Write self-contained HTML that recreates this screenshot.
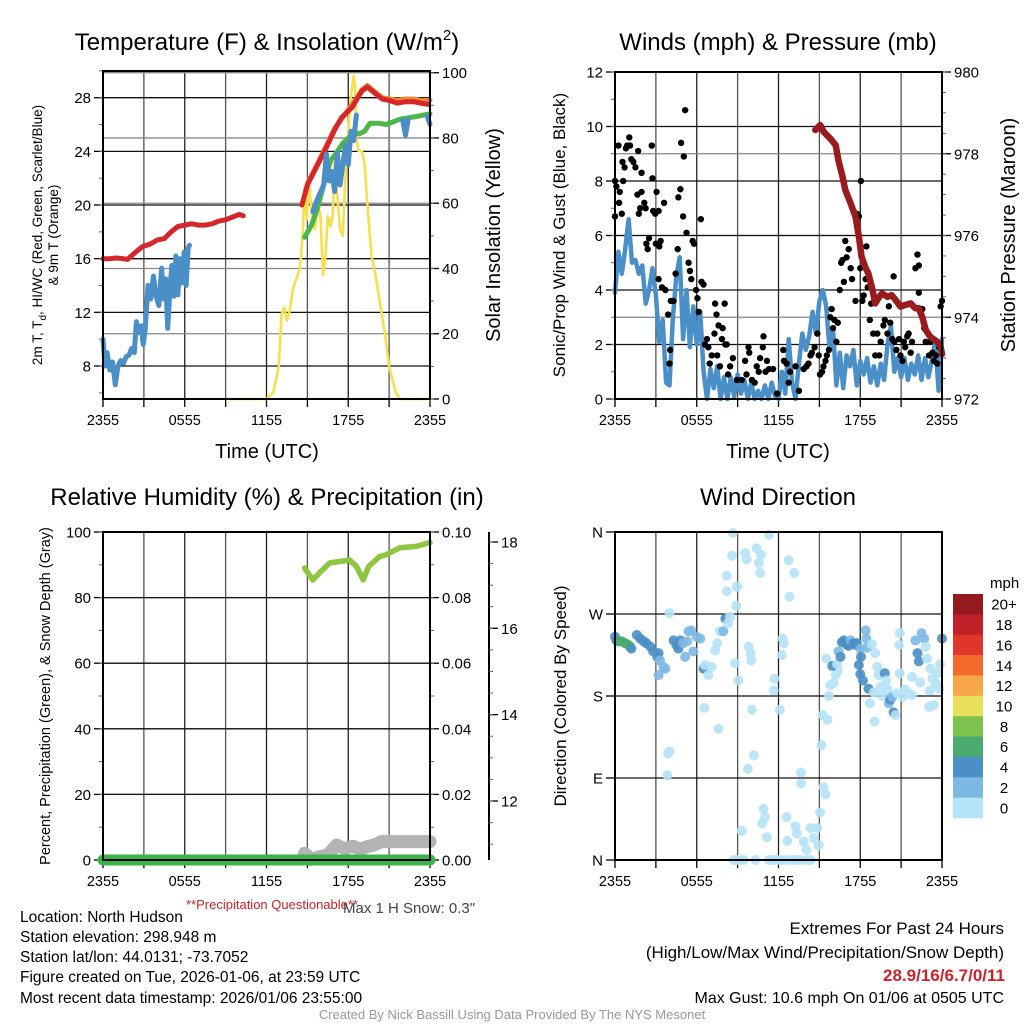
<!DOCTYPE html>
<html><head><meta charset="utf-8"><title>North Hudson Meteogram</title>
<style>
html,body{margin:0;padding:0;background:#fff;}
svg{display:block;font-family:"Liberation Sans",Arial,sans-serif;}
</style></head>
<body>
<svg id="fig" width="1024" height="1024" viewBox="0 0 1024 1024" xmlns="http://www.w3.org/2000/svg">
<rect x="0" y="0" width="1024" height="1024" fill="#fff"/>
<text x="267" y="50" font-size="24" text-anchor="middle">Temperature (F) &amp; Insolation (W/m<tspan font-size="15" dy="-10">2</tspan><tspan dy="10">)</tspan></text>
<text x="778" y="50" font-size="24" text-anchor="middle">Winds (mph) &amp; Pressure (mb)</text>
<text x="267" y="505" font-size="24" text-anchor="middle">Relative Humidity (%) &amp; Precipitation (in)</text>
<text x="778" y="505" font-size="24" text-anchor="middle">Wind Direction</text>
<text x="267" y="458" font-size="20" text-anchor="middle">Time (UTC)</text>
<text x="778" y="458" font-size="20" text-anchor="middle">Time (UTC)</text>
<g transform="translate(42,235) rotate(-90)"><text x="0" y="0" font-size="13.5" text-anchor="middle">2m T, T<tspan font-size="10" dy="4">d</tspan><tspan dy="-4">, HI/WC (Red, Green, Scarlet/Blue)</tspan></text><text x="0" y="16" font-size="13.5" text-anchor="middle">&amp; 9m T (Orange)</text></g>
<text transform="translate(500,235) rotate(-90)" font-size="20" text-anchor="middle">Solar Insolation (Yellow)</text>
<text transform="translate(565,235) rotate(-90)" font-size="17" text-anchor="middle">Sonic/Prop Wind &amp; Gust (Blue, Black)</text>
<text transform="translate(1015,235) rotate(-90)" font-size="20" text-anchor="middle">Station Pressure (Maroon)</text>
<text transform="translate(50,696) rotate(-90)" font-size="14.5" text-anchor="middle">Percent, Precipitation (Green), &amp; Snow Depth (Gray)</text>
<text transform="translate(566,696) rotate(-90)" font-size="17" text-anchor="middle">Direction (Colored By Speed)</text>
<text x="186" y="909" font-size="13" fill="#d0202a">**Precipitation Questionable**</text>
<text x="343" y="913" font-size="15" fill="#444">Max 1 H Snow: 0.3"</text>
<g font-size="15.5">
<text x="20" y="922">Location: North Hudson</text>
<text x="20" y="942">Station elevation: 298.948 m</text>
<text x="20" y="962">Station lat/lon: 44.0131; -73.7052</text>
<text x="20" y="982">Figure created on Tue, 2026-01-06, at 23:59 UTC</text>
<text x="20" y="1003">Most recent data timestamp: 2026/01/06 23:55:00</text>
</g>
<g text-anchor="end">
<text x="1004" y="934" font-size="17">Extremes For Past 24 Hours</text>
<text x="1004" y="958" font-size="17">(High/Low/Max Wind/Precipitation/Snow Depth)</text>
<text x="1005" y="981" font-size="17" font-weight="bold" fill="#cc2228">28.9/16/6.7/0/11</text>
<text x="1004" y="1003" font-size="16">Max Gust: 10.6 mph On 01/06 at 0505 UTC</text>
</g>
<text x="512" y="1019" font-size="13" fill="#999" text-anchor="middle">Created By Nick Bassill Using Data Provided By The NYS Mesonet</text>
</svg>
<script>
// ---------- data ----------
const timeTickLabels = ["2355","0555","1155","1755","2355"];
const tempTicks = [8,12,16,20,24,28];
const insolTicks = [0,20,40,60,80,100];
const windTicks = [0,2,4,6,8,10,12];
const pressTicks = [972,974,976,978,980];
const rhTicks = [0,20,40,60,80,100];
const precipTicks = [0,0.02,0.04,0.06,0.08,0.10];
const snowTicks = [12,14,16,18];
const dirTicks = [0,90,180,270,360];
const dirTickLabels = ["N","E","S","W","N"];
const speedBins = ["0","2","4","6","8","10","12","14","16","18","20+"];
const speedColors = ["#b5e3f7","#7db8e3","#4a8fc7","#4aaa70","#7dc24d","#e8e05a","#f8a748","#f26a2c","#e0352b","#c0202a","#941a1d"];

const red1T = [0,0.5,1,1.5,1.8,2.3,2.9,3.5,4,4.5,5,5.5,6,6.5,7,7.5,8,8.5,9,9.5,10,10.3];
const red1V = [16.0,16.0,16.05,16.0,15.95,16.4,16.9,17.1,17.4,17.5,18.0,18.4,18.5,18.6,18.5,18.5,18.6,18.8,18.9,19.1,19.3,19.2];
const red2T = [14.6,15.0,15.5,16.0,16.4,17.0,17.5,18.0,18.3,18.7,19.0,19.4,20.0,20.5,21.0,21.6,22.2,22.8,23.3,23.9];
const red2V = [20.0,21.5,22.5,23.5,24.3,25.6,26.5,27.0,27.3,28.0,28.5,28.8,28.3,27.9,27.8,27.6,27.7,27.7,27.6,27.5];
const orangeT = [15.0,16.0,17.0,18.0,18.7,19.0,19.4,20.0,20.5,21.0,21.6,22.2,22.8,23.3,24.0];
const orangeV = [21.6,23.6,25.7,27.1,28.1,28.6,28.9,28.4,28.0,27.9,27.8,27.9,27.9,27.8,27.8];
const greenT = [14.8,15.3,15.7,16.2,16.7,17.2,17.6,18.0,18.4,18.8,19.2,19.6,20.2,20.8,21.3,21.8,22.4,23.0,23.5,24.0];
const greenV = [17.6,18.5,19.6,21.5,23.3,24.0,24.6,25.0,25.4,25.3,25.5,26.1,26.1,26.0,26.2,26.4,26.5,26.6,26.7,26.8];
const blue1T = [0,0.15,0.3,0.5,0.7,0.9,1.1,1.3,1.5,1.7,1.9,2.1,2.3,2.45,2.6,2.8,2.95,3.1,3.3,3.5,3.7,3.9,4.1,4.3,4.45,4.6,4.75,4.9,5.05,5.2,5.35,5.5,5.65,5.8,5.95,6.1,6.25,6.35];
const blue1V = [10.0,8.0,9.0,7.7,8.3,6.6,8.0,8.4,8.2,8.7,8.8,9.3,9.0,11.3,10.5,11.0,9.6,10.7,14.0,13.0,14.7,13.2,12.5,15.3,13.0,14.5,10.8,13.5,15.5,13.2,16.2,13.3,16.0,14.2,16.5,14.0,16.8,17.0];
const blue2T = [15.4,15.8,16.2,16.4,16.6,16.8,17.0,17.2,17.4,17.6,17.8,18.0,18.2,18.4,18.6];
const blue2V = [19.5,20.6,21.5,23.8,21.8,22.5,21.0,23.9,21.5,23.0,24.5,23.0,25.5,24.8,26.7];
const blue3T = [22.0,22.2,22.4];
const blue3V = [26.3,25.2,26.4];
const blue4T = [23.8,24.0];
const blue4V = [26.6,26.0];
const insolT = [9.2,12.0,12.5,12.9,13.1,13.3,13.5,13.7,13.95,14.2,14.45,14.65,14.8,14.95,15.1,15.3,15.55,15.75,15.95,16.15,16.3,16.5,16.7,16.85,17.0,17.2,17.4,17.6,17.8,18.0,18.2,18.4,18.5,18.6,18.75,19.0,19.2,19.4,19.7,20.0,20.3,20.7,21.0,21.3,21.5,21.8,24.0];
const insolV = [0,0,2,10,26,28,24,27,34,37,40,50,65,55,67,58,52,59,57,38,42,56,53,56,72,62,52,50,68,82,93,99,96,80,76,76,72,60,44,38,30,20,10,5,2,0,0];

const sonicStepH = 0.25;
const sonicV = [3.9,5.4,4.6,5.5,6.6,5.0,5.1,4.6,4.9,3.5,4.0,4.8,3.8,2.1,2.9,0.6,0.5,3.0,4.5,5.2,2.2,4.0,1.9,3.4,2.0,3.2,1.0,0.0,1.1,0.4,1.2,0.0,0.8,0.0,0.8,0.1,0.9,0.2,0.7,0.0,0.6,0.0,0.3,0.0,0.5,0.0,0.6,0.1,0.0,1.0,0.2,2.2,0.6,0.0,1.3,2.4,1.8,2.3,3.2,2.4,3.6,4.0,3.4,1.8,2.6,0.5,1.7,0.4,1.6,1.2,1.8,0.5,1.4,0.9,1.5,0.6,1.2,0.5,1.3,0.7,2.0,2.7,1.0,1.5,0.8,1.5,0.7,1.3,0.9,1.6,0.7,1.5,0.8,1.4,2.1,0.3,2.2];
const gustT = [0,0,0.1,0.25,0.3,0.35,0.5,0.55,0.6,0.7,0.8,0.9,1.05,1.1,1.2,1.35,1.5,1.7,1.85,1.95,1.65,1.75,1.95,2.15,2.25,2.3,2.4,2.5,2.7,2.75,2.8,2.95,3.0,3.05,3.2,3.25,3.35,3.2,3.45,3.6,3.7,3.9,4.0,4.05,4.1,4.3,4.45,4.6,4.65,4.8,4.85,5.0,5.05,5.15,5.25,5.4,5.5,5.6,5.7,5.8,5.95,6.05,6.15,6.3,6.35,6.5,6.6,6.75,6.85,6.95,7.1,7.3,7.35,7.45,7.5,7.6,7.7,7.85,7.9,8.05,8.1,8.2,8.3,8.45,8.65,8.95,9.3,9.55,9.65,9.8,9.85,10.05,10.25,10.4,10.55,10.65,10.85,10.9,11.05,11.15,11.3,11.6,11.9,12.35,12.4,12.6,12.75,12.85,13.25,13.5,13.85,14.05,14.2,14.35,14.45,14.65,14.85,14.95,15.05,15.2,15.3,15.45,15.55,15.7,15.8,15.9,16.0,16.1,16.25,16.35,16.5,16.6,16.7,16.8,16.9,17.0,17.15,17.3,17.4,17.5,17.65,17.75,17.9,18.0,18.05,18.15,18.25,18.4,18.45,18.55,18.7,18.8,18.95,19.1,19.25,19.4,19.5,19.7,19.8,20.0,20.1,20.2,20.35,20.45,20.5,20.65,20.85,20.95,21.1,21.2,21.3,21.45,21.55,21.7,21.8,22.05,22.2,22.3,22.3,22.55,22.7,22.8,23.05,23.15,23.3,23.4,23.55,23.65,23.8,23.9,24.0];
const gustV = [6.7,8.0,7.8,9.3,7.2,7.6,6.8,8.7,8.0,8.5,9.2,9.3,9.6,9.3,8.8,8.7,8.5,9.1,7.0,8.3,7.5,6.8,7.6,7.2,7.0,5.7,5.5,5.9,9.3,8.1,6.9,6.8,5.7,7.6,6.9,5.6,5.8,4.4,4.1,7.2,4.0,3.1,1.3,1.8,3.6,3.6,4.6,5.5,7.4,7.7,9.4,6.7,8.9,10.6,6.1,5.0,4.7,4.4,5.8,5.7,4.0,3.7,3.2,6.6,4.3,4.2,2.0,2.2,1.9,1.3,1.6,2.4,3.5,3.1,1.6,2.7,1.2,2.2,2.6,3.5,2.0,2.0,0.9,1.2,1.5,0.7,0.7,1.4,0.9,1.9,1.7,0.7,0.6,1.2,1.0,1.5,1.9,2.3,1.0,1.4,1.1,1.1,0.2,1.8,1.4,1.3,0.6,1.0,1.2,0.3,1.1,1.2,1.3,1.6,1.7,1.9,2.4,1.6,0.9,1.0,1.2,1.4,1.6,1.8,3.0,3.3,2.6,2.9,2.1,2.8,4.0,5.0,5.1,4.3,5.8,5.2,5.5,4.8,4.4,6.9,3.6,6.8,6.7,4.8,8.0,3.6,3.8,4.4,5.6,4.1,2.9,3.5,2.4,1.6,2.4,1.6,2.1,2.7,2.9,2.4,3.4,2.8,2.2,4.5,2.1,1.8,2.2,1.6,1.4,2.1,1.9,2.3,2.4,1.7,2.1,4.8,5.3,4.9,3.9,3.3,2.6,2.1,1.6,2.1,1.7,1.4,1.6,1.3,1.9,3.4,3.6];
const pressT = [14.7,15.07,15.3,15.8,16.2,16.4,16.7,16.9,17.3,17.65,17.9,18.1,18.4,18.6,18.9,19.1,19.4,19.6,20.0,20.3,20.6,20.95,21.3,21.7,22.05,22.3,22.55,22.8,23.15,23.65,23.9,24.0];
const pressV = [978.58,978.70,978.54,978.37,978.21,977.84,977.44,977.11,976.78,976.46,975.97,975.48,975.20,975.07,974.67,974.34,974.50,974.58,974.50,974.54,974.42,974.26,974.30,974.34,974.22,974.22,974.01,973.69,973.52,973.40,973.28,973.1];

const rhT = [14.8,15.4,15.9,16.65,17.4,18.1,18.6,19.1,19.5,20.3,20.8,21.8,23.0,24.0];
const rhV = [89.0,85.4,87.6,90.6,91.0,91.5,89.5,85.4,89.5,92.5,93.1,95.2,95.6,96.8];
const precipT = [0,24];
const precipV = [0,0];
const snowT = [14.8,15.3,15.9,16.5,17.15,17.7,18.35,18.9,19.35,19.9,20.45,21.0,21.55,22.5,23.5,24.0];
const snowV = [10.79,10.65,10.71,10.75,10.98,10.9,10.95,10.88,10.94,10.98,11.06,11.06,11.06,11.06,11.06,11.06];

const dirT = [0,0.1,0.25,0.5,0.75,1.0,1.1,1.2,1.6,1.85,2.1,2.3,2.6,2.8,3.1,3.2,3.3,3.55,3.7,3.2,
 4.0,4.3,4.5,4.65,4.8,5.0,5.15,5.3,5.4,5.6,5.75,6.0,6.25,6.5,6.6,6.85,7.1,6.55,7.35,7.5,
 7.7,7.95,8.1,8.3,8.45,7.6,8.2,8.2,8.6,8.65,8.95,8.9,8.8,9.05,9.55,9.65,9.8,9.95,10.0,10.05,
 10.2,9.75,10.4,10.55,10.65,10.7,11.3,11.65,11.7,12.1,12.25,12.3,12.4,12.75,12.8,13.15,3.9,4.0,3.85,9.3,
 10.9,11.0,10.8,11.15,12.6,13.25,13.35,12.65,13.65,13.65,13.85,14.05,14.35,14.6,14.85,14.95,15.05,15.3,15.45,15.15,
 15.25,15.6,15.5,15.7,15.8,16.05,16.2,16.35,15.95,16.3,16.4,16.55,16.65,16.8,17.05,17.15,17.3,17.5,17.65,17.75,
 18.0,18.05,17.9,18.0,18.2,18.4,18.45,18.5,18.6,18.7,18.85,19.1,19.0,19.05,19.25,19.35,19.5,19.6,19.8,19.9,
 20.0,20.1,20.2,20.35,20.45,20.6,20.7,20.85,20.9,20.9,21.1,21.3,21.55,21.8,21.8,22.05,22.2,22.3,22.4,22.5,
 22.7,22.8,22.9,23.05,23.1,23.15,23.3,23.4,23.55,23.65,23.8,23.85,24.0,
 8.7,8.95,9.3,9.45,10.3,11.3,11.5,11.9,12.25,12.6,13.0,13.35,13.7,14.1,14.35];
const dirDeg = [245,241,240,240,238,236,234,232,247,243,240,238,234,229,223,227,219,212,210,203,
 271,241,236,232,241,238,223,240,251,252,229,245,243,210,214,203,212,167,230,238,
 251,251,265,260,267,144,295,312,334,359,300,279,216,197,337,330,234,227,219,165,
 115,100,342,326,315,335,357,186,199,165,225,243,238,329,289,315,117,119,93,32,
 56,47,40,25,47,37,29,21,96,84,20,11,35,24,35,16,52,80,72,126,
 159,154,221,180,192,194,203,208,213,215,229,223,239,241,236,235,241,238,236,238,
 232,223,214,204,197,252,243,233,188,172,237,227,184,152,212,203,190,180,205,197,
 187,172,176,179,162,159,183,236,205,249,179,187,183,181,201,241,227,218,195,249,
 243,234,221,168,186,210,199,170,194,205,188,215,243,
 0,0,0,0,0,0,0,0,0,0,0,0,0,0,0];
const dirSpeed = [5,5,7,7,7,7,7,5,5,5,5,5,5,5,5,5,3,3,3,3,
 1,5,5,5,5,3,3,3,3,3,3,3,3,5,1,1,1,1,1,1,
 1,3,5,1,1,1,1,1,1,1,1,1,1,1,1,1,1,1,1,1,
 1,1,1,1,1,1,1,1,1,1,1,1,1,1,1,1,1,1,1,1,
 1,1,1,1,1,1,1,1,1,1,1,1,1,1,1,1,1,1,1,1,
 1,1,1,1,1,1,1,1,5,1,3,5,5,5,5,5,3,5,5,5,
 3,5,5,5,5,3,3,3,5,1,1,1,1,1,1,1,1,1,5,1,
 1,3,5,3,5,1,1,1,1,1,1,1,1,1,1,3,5,5,1,3,
 3,1,1,1,1,1,1,1,1,1,1,1,5,
 1,1,1,1,1,1,1,1,1,1,1,1,1,1,1];

// ---------- helpers ----------
const NS = "http://www.w3.org/2000/svg";
const svg = document.getElementById("fig");
function mk(tag, attrs, parent) {
  const e = document.createElementNS(NS, tag);
  for (const k in attrs) e.setAttribute(k, attrs[k]);
  (parent || svg).appendChild(e);
  return e;
}
function xScale(L, R) { return h => L + h * (R - L) / 24; }
function linScale(v0, y0, v1, y1) { return v => y0 + (v - v0) * (y1 - y0) / (v1 - v0); }
function pathD(ts, vs, xs, ys) {
  let d = "";
  for (let i = 0; i < ts.length && i < vs.length; i++) d += (i ? "L" : "M") + xs(ts[i]).toFixed(1) + "," + ys(vs[i]).toFixed(1);
  return d;
}
function drawLine(g, ts, vs, xs, ys, color, w, name) {
  const p = mk("path", {d: pathD(ts, vs, xs, ys), fill: "none", stroke: color, "stroke-width": w, "stroke-linejoin": "round", "stroke-linecap": "round"}, g);
  
  
  return p;
}
function frame(g, L, R, T, B, xs, name) {
  for (let h = 0; h <= 24; h += 3) {
    const x = xs(h);
    const gl = mk("line", {x1: x, y1: T, x2: x, y2: B, stroke: (h % 6 === 0) ? "#222" : "#555", "stroke-width": 1.3}, g);
    
    
    const tk = mk("line", {x1: x, y1: B, x2: x, y2: B + 8, stroke: "#000", "stroke-width": 1.3}, g);
    
    
  }
  for (let i = 0; i < timeTickLabels.length; i++) {
    const t = mk("text", {x: xs(i * 6), y: B + 26, "font-size": 14.5, "text-anchor": "middle"}, g);
    t.textContent = timeTickLabels[i];
    
    
  }
}
function box(g, L, R, T, B, name) {
  const r = mk("rect", {x: L, y: T, width: R - L, height: B - T, fill: "none", stroke: "#000", "stroke-width": 2}, g);
  
  
}
function yAxis(g, ticks, labels, ys, x, side, minorStep, lo, hi, gridL, gridR, gridColor, name, fmt) {
  for (let i = 0; i < ticks.length; i++) {
    const y = ys(ticks[i]);
    if (gridL !== null) {
      const gl = mk("line", {x1: gridL, y1: y, x2: gridR, y2: y, stroke: gridColor, "stroke-width": 1.3}, g);
      
      
    }
    const tk = mk("line", {x1: x, y1: y, x2: x + side * 9, y2: y, stroke: "#000", "stroke-width": 1.3}, g);
    
    
    const t = mk("text", {x: x + side * 12, y: y + 5.5, "font-size": 15, "text-anchor": side < 0 ? "end" : "start"}, g);
    t.textContent = labels ? labels[i] : (fmt ? fmt(ticks[i]) : String(ticks[i]));
    
    
  }
  if (minorStep) {
    for (let v = lo; v <= hi + 1e-9; v += minorStep) {
      const y = ys(v);
      const mt = mk("line", {x1: x, y1: y, x2: x + side * 4, y2: y, stroke: "#666", "stroke-width": 1}, g);
      
      
    }
  }
}

// ---------- panel 1: temperature ----------
(function () {
  const L = 103, R = 430, T = 71, B = 399;
  const xs = xScale(L, R);
  const yT = linScale(28, 97.7, 8, 366);
  const yI = linScale(0, 399, 100, 72.7);
  const g = mk("g", {});  
  frame(g, L, R, T, B, xs, "temp");
  yAxis(g, insolTicks, null, yI, R, 1, 10, 0, 100, L, R, "#888", "insolation-axis");
  yAxis(g, tempTicks, null, yT, L, -1, 2, 6, 30, L, R, "#111", "temperature-axis");
  drawLine(g, insolT, insolV, xs, yI, "#f7e04b", 2.6, "insolation-line");
  drawLine(g, blue1T, blue1V, xs, yT, "#4a8fc7", 5, "wind-chill-line-1");
  drawLine(g, orangeT, orangeV, xs, yT, "#f08a30", 5, "9m-temperature-line");
  drawLine(g, red1T, red1V, xs, yT, "#d7262b", 5, "2m-temperature-line-1");
  drawLine(g, greenT, greenV, xs, yT, "#4db848", 5, "dewpoint-line");
  drawLine(g, red2T, red2V, xs, yT, "#d7262b", 5, "2m-temperature-line-2");
  drawLine(g, blue2T, blue2V, xs, yT, "#4a8fc7", 5, "wind-chill-line-2");
  drawLine(g, blue3T, blue3V, xs, yT, "#4a8fc7", 5, "wind-chill-line-3");
  drawLine(g, blue4T, blue4V, xs, yT, "#4a8fc7", 5, "wind-chill-line-4");
  box(g, L, R, T, B, "temperature");
})();

// ---------- panel 2: winds ----------
(function () {
  const L = 615, R = 942, T = 72, B = 399;
  const xs = xScale(L, R);
  const yW = linScale(0, 399, 12, 72);
  const yP = linScale(972, 399, 980, 72);
  const g = mk("g", {});  
  frame(g, L, R, T, B, xs, "wind");
  yAxis(g, pressTicks, null, yP, R, 1, 0.5, 972, 980, L, R, "#888", "pressure-axis");
  yAxis(g, windTicks, null, yW, L, -1, 1, 0, 12, L, R, "#111", "wind-axis");
  const sonicT = sonicV.map((v, i) => i * sonicStepH);
  drawLine(g, sonicT, sonicV, xs, yW, "#4a8fc7", 4.5, "sonic-wind-line");
  for (let i = 0; i < gustT.length && i < gustV.length; i++) {
    const c = mk("circle", {cx: xs(gustT[i]), cy: yW(gustV[i]), r: 3.2, fill: "#000"}, g);
    
    
  }
  drawLine(g, pressT, pressV, xs, yP, "#9a1b1e", 6.5, "pressure-line");
  box(g, L, R, T, B, "winds");
})();

// ---------- panel 3: humidity ----------
(function () {
  const L = 103, R = 430, T = 532, B = 860;
  const xs = xScale(L, R);
  const yH = linScale(0, 860, 100, 532);
  const yPr = linScale(0, 860, 0.1, 532);
  const yS = linScale(12, 801, 18, 542);
  const g = mk("g", {});  
  frame(g, L, R, T, B, xs, "rh");
  yAxis(g, precipTicks, null, yPr, R, 1, 0.01, 0, 0.1, L, R, "#888", "precip-axis", v => v.toFixed(2));
  yAxis(g, rhTicks, null, yH, L, -1, 10, 0, 100, L, R, "#111", "humidity-axis");
  const sa = mk("line", {x1: 489, y1: 532, x2: 489, y2: 860, stroke: "#000", "stroke-width": 2}, g);
  
  
  yAxis(g, snowTicks, null, yS, 489, 1, 0.5, 11.0, 18.4, null, null, null, "snow-depth-axis");
  drawLine(g, snowT, snowV, xs, yS, "#b3b3b3", 13, "snow-depth-line");
  drawLine(g, precipT, precipV, xs, yPr, "#3bb34a", 11, "precipitation-line");
  drawLine(g, rhT, rhV, xs, yH, "#8dc63f", 5.5, "relative-humidity-line");
  box(g, L, R, T, B, "humidity");
})();

// ---------- panel 4: wind direction ----------
(function () {
  const L = 615, R = 942, T = 532, B = 860;
  const xs = xScale(L, R);
  const yD = linScale(0, 860, 360, 532);
  const g = mk("g", {});  
  frame(g, L, R, T, B, xs, "dir");
  yAxis(g, dirTicks, dirTickLabels, yD, L, -1, 0, 0, 0, L, R, "#111", "direction-axis");
  for (let i = 0; i < dirT.length && i < dirDeg.length && i < dirSpeed.length; i++) {
    const bin = Math.min(10, Math.floor(dirSpeed[i] / 2));
    const c = mk("circle", {cx: xs(dirT[i]), cy: yD(dirDeg[i]), r: 5, fill: speedColors[bin], "fill-opacity": 0.9}, g);
    
    
  }
  box(g, L, R, T, B, "direction");
  const lg = mk("g", {});  
  const mt = mk("text", {x: 990, y: 588, "font-size": 15}, lg);
  mt.textContent = "mph";
  
  
  const bh = 224 / speedBins.length;
  for (let i = 0; i < speedBins.length; i++) {
    const k = speedBins.length - 1 - i;
    const y = 594 + i * bh;
    const r = mk("rect", {x: 953, y: y, width: 30, height: bh + 0.3, fill: speedColors[k]}, lg);
    
    
    const t = mk("text", {x: 1004, y: y + bh / 2 + 5.5, "font-size": 15, "text-anchor": "middle"}, lg);
    t.textContent = speedBins[k];
    
    
  }
})();
</script>
</body></html>
